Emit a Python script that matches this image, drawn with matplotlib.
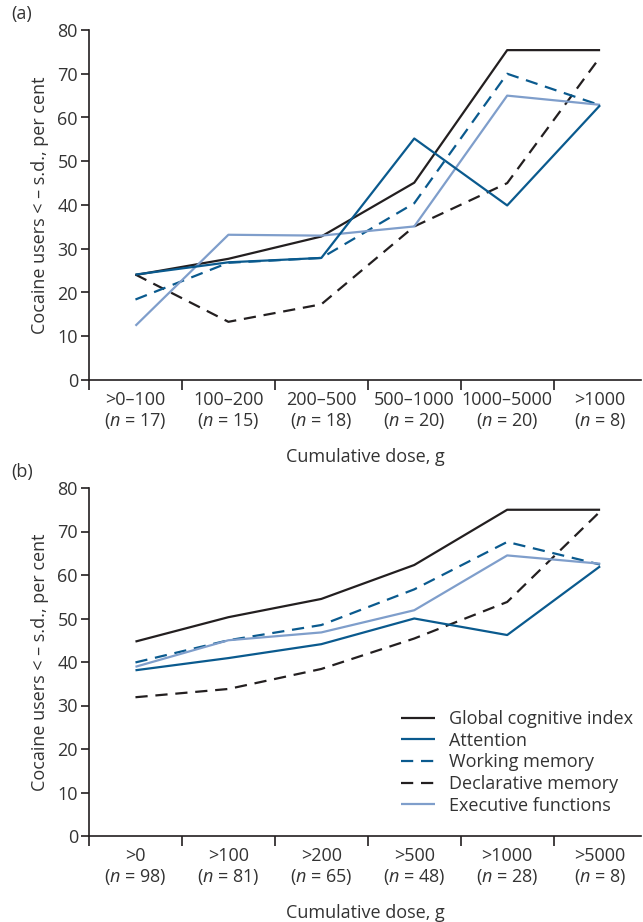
import matplotlib
matplotlib.use("Agg")
import matplotlib.pyplot as plt
from matplotlib.ticker import FixedLocator

plt.rcParams["font.family"] = ["Open Sans", "DejaVu Sans"]
plt.rcParams["mathtext.fontset"] = "custom"
plt.rcParams["mathtext.it"] = "Open Sans:italic"
plt.rcParams["mathtext.rm"] = "Open Sans"

TXT = "#231f20"

# panel (a): dose bands
doses_a = [">0–100", "100–200", "200–500", "500–1000", "1000–5000", ">1000"]
n_a = [17, 15, 18, 20, 20, 8]
global_a = [24.0, 27.7, 32.8, 45.1, 75.4, 75.4]
attention_a = [24.1, 26.9, 27.9, 55.2, 39.9, 62.8]
working_a = [18.4, 26.8, 27.9, 40.4, 70.0, 62.8]
declarative_a = [24.1, 13.3, 17.3, 35.1, 45.0, 73.8]
executive_a = [12.4, 33.2, 33.0, 35.1, 65.0, 62.9]

# panel (b): cumulative thresholds
doses_b = [">0", ">100", ">200", ">500", ">1000", ">5000"]
n_b = [98, 81, 65, 48, 28, 8]
global_b = [44.7, 50.3, 54.5, 62.3, 75.0, 75.0]
attention_b = [38.1, 40.9, 44.1, 50.0, 46.2, 62.0]
working_b = [39.9, 45.0, 48.5, 56.7, 67.6, 62.4]
declarative_b = [31.9, 33.8, 38.4, 45.4, 53.8, 74.6]
executive_b = [38.9, 45.0, 46.8, 51.9, 64.5, 62.6]

names = ["Global cognitive index", "Attention", "Working memory",
         "Declarative memory", "Executive functions"]
styles = [
    dict(color="#231f20", ls="-", zorder=3),
    dict(color="#0a5a8e", ls="-", zorder=5),
    dict(color="#0a5a8e", ls=(0, (5.5, 3.5)), zorder=4),
    dict(color="#231f20", ls=(0, (5.5, 3.5)), zorder=2),
    dict(color="#7f9ecb", ls="-", zorder=4.5),
]

fig = plt.figure(figsize=(6.43, 9.22), dpi=100)
ax_a = fig.add_axes([89 / 643, 1 - 380 / 922, 552 / 643, 350 / 922])
ax_b = fig.add_axes([89 / 643, 1 - 836 / 922, 552 / 643, 348 / 922])


def draw(ax, doses, ns, series, letter, legend=False):
    x = list(range(1, len(doses) + 1))
    for vals, name, st in zip(series, names, styles):
        ax.plot(x, vals, lw=1.6, label=name, solid_capstyle="butt",
                dash_capstyle="butt", **st)
    ax.set_xlim(0.5, 6.44)
    ax.set_ylim(0, 80)
    ax.set_yticks(range(0, 81, 10))
    ax.spines["top"].set_visible(False)
    ax.spines["right"].set_visible(False)
    for s in ("left", "bottom"):
        ax.spines[s].set_linewidth(1.2)
        ax.spines[s].set_color(TXT)
    labels = [f"{d}\n($\\it{{n}}$ = {n})" for d, n in zip(doses, ns)]
    ax.set_xticks(x)
    ax.set_xticklabels(labels, fontsize=13, color="#333333", linespacing=1.15)
    ax.tick_params(axis="x", which="major", length=0, pad=8)
    ax.xaxis.set_minor_locator(FixedLocator([i + 0.5 for i in range(6)]))
    ax.tick_params(axis="x", which="minor", length=7, width=1.2, color=TXT)
    ax.tick_params(axis="y", length=6, width=1.2, color=TXT, labelsize=13,
                   labelcolor="#333333", pad=2)
    ax.set_xlabel("Cumulative dose, g", fontsize=13, color="#333333", labelpad=12)
    ax.set_ylabel("Cocaine users < – s.d., per cent", fontsize=13,
                  color="#333333", labelpad=6)
    ax.text(-0.14, 1.02, letter, transform=ax.transAxes, fontsize=13,
            color="#333333", va="bottom", ha="left")
    if legend:
        ax.legend(loc="lower right", bbox_to_anchor=(1.015, 0.015), frameon=False,
                  fontsize=13, handlelength=1.85, handletextpad=0.8,
                  labelspacing=0.2, labelcolor="#333333")


draw(ax_a, doses_a, n_a,
     [global_a, attention_a, working_a, declarative_a, executive_a], "(a)")
draw(ax_b, doses_b, n_b,
     [global_b, attention_b, working_b, declarative_b, executive_b], "(b)",
     legend=True)

plt.savefig("out.png", dpi=100)
